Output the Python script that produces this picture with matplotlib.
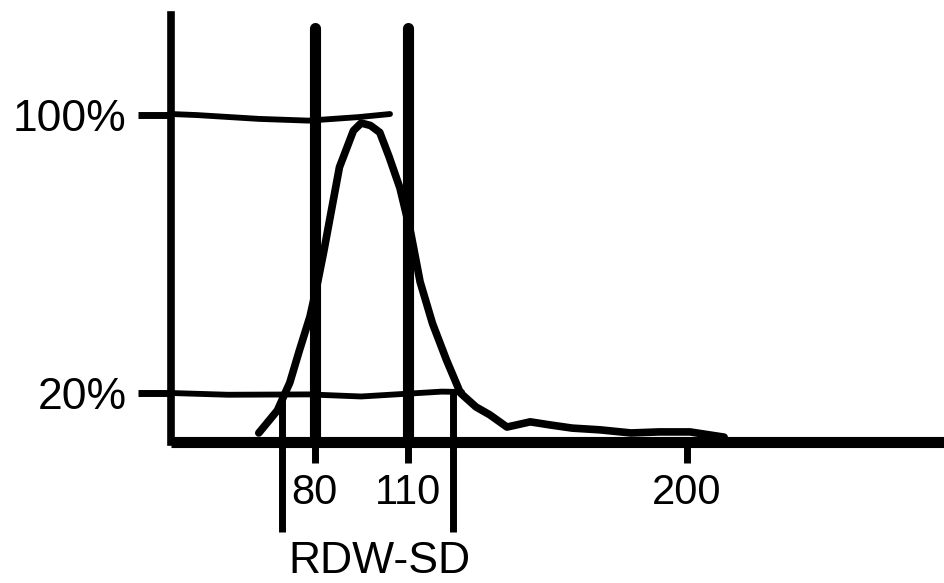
import matplotlib.pyplot as plt

# red cell volume histogram, x in fL, y in % of peak height
size_fl = [62, 68, 72, 75, 78.5, 81, 83, 88, 92.5, 95, 98, 101, 104, 107.5,
           111, 114, 118, 122.5, 127, 132, 136.5, 142, 149.5, 156, 163, 172,
           182, 191, 201, 212]
rel_count = [8.5, 15, 23, 32, 42, 52, 61, 85, 95.5, 97.7, 97, 95, 88, 79,
             66, 52, 40, 29.5, 20, 16, 13.7, 10.2, 11.7, 10.8, 9.9, 9.4,
             8.5, 8.8, 8.8, 7.3]

# hand drawn reference levels
level_100_x = [33.7, 42, 62, 78, 94, 104.3]
level_100_y = [100.3, 100, 98.9, 98.4, 99.4, 100.3]
level_20_x = [33.7, 52, 78, 95, 121, 127.5]
level_20_y = [20.0, 19.5, 19.6, 19.0, 20.4, 20.3]

gate_fl = [80, 110]          # discriminator lines
rdw_sd_fl = [69.5, 124.6]    # width measured at 20 %
rdw_sd_span = [20, -20]

x_ticks = [80, 110, 200]
x_tick_labels = ["80", "110", "200"]
y_ticks = [20, 100]
y_tick_labels = ["20%", "100%"]

plt.rcParams["font.family"] = ["Liberation Sans", "DejaVu Sans"]

fig = plt.figure(figsize=(9.45, 5.83), dpi=100)
ax = fig.add_axes([171 / 945, 1 - 442 / 583, 1 - 171 / 945, 427 / 583])
ax.set_xlim(33.7, 283.2)
ax.set_ylim(5.9, 128.8)

ink = "black"
ax.plot(level_100_x, level_100_y, color=ink, lw=4.2, solid_capstyle="round")
ax.plot(level_20_x, level_20_y, color=ink, lw=4.2, solid_capstyle="round")

for g in gate_fl:
    ax.plot([g, g], [5.9, 125], color=ink, lw=8, solid_capstyle="round")

for r in rdw_sd_fl:
    ax.plot([r, r], rdw_sd_span, color=ink, lw=5, clip_on=False,
            solid_capstyle="butt")

ax.plot(size_fl, rel_count, color=ink, lw=5.5, solid_capstyle="round",
        solid_joinstyle="round")

ax.text(101, -0.28, "RDW-SD", transform=ax.get_xaxis_transform(),
        ha="center", va="center", fontsize=32)

for side in ["top", "right"]:
    ax.spines[side].set_visible(False)
ax.spines["bottom"].set_linewidth(8)
ax.spines["left"].set_linewidth(5.5)
ax.spines["bottom"].set_capstyle("butt")

ax.set_xticks(x_ticks)
ax.set_xticklabels(x_tick_labels)
ax.set_yticks(y_ticks)
ax.set_yticklabels(y_tick_labels)
ax.tick_params(axis="x", length=15, width=5, pad=7, labelsize=30, color=ink)
ax.tick_params(axis="y", length=24, width=5, pad=8, labelsize=32, color=ink)

fig.savefig("out.png", dpi=100)
